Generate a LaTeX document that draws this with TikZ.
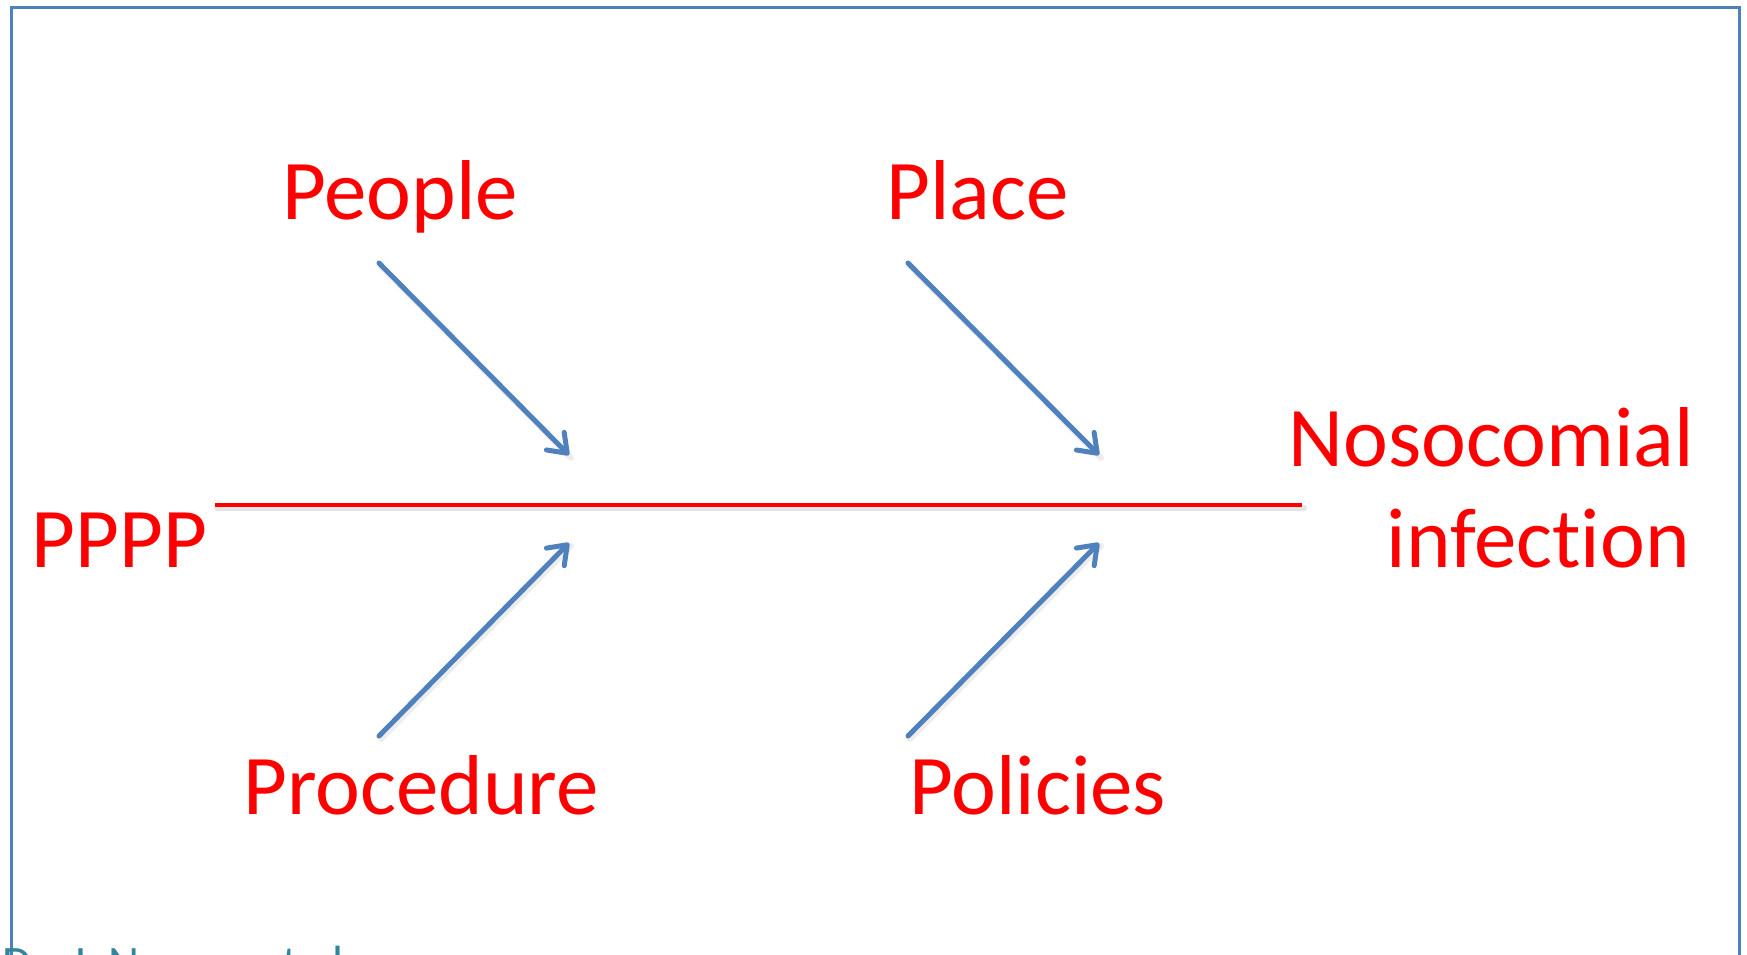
\documentclass[tikz,border=0pt]{standalone}
\usepackage{fontspec}
\setmainfont{Carlito}[Ligatures=NoCommon]
\usetikzlibrary{arrows.meta}
\definecolor{ored}{HTML}{FF0000}
\definecolor{oblue}{HTML}{4F81BD}
\definecolor{oteal}{HTML}{31859C}
\tikzset{
  lbl/.style={text=ored, inner sep=0pt, font=\fontsize{85}{101}\selectfont},
  spine/.style={draw=ored, line width=4.5pt},
  bone/.style={draw=oblue, line width=5pt, line cap=round, -{Straight Barb[length=17pt,width=25pt,line join=round,line cap=round]}},
  shade/.style={draw=black, opacity=0.10, line width=6pt, line cap=round},
  frame/.style={draw=oblue, line width=3pt},
  foot/.style={text=oteal, inner sep=0pt, font=\fontsize{48}{58}\selectfont}
}
\begin{document}
\begin{tikzpicture}[x=1pt,y=-1pt]
\useasboundingbox (0,0) rectangle (1747,954);
\clip (0,0) rectangle (1747,954);
\fill[white] (0,0) rectangle (1747,954);
% frame
\draw[frame] (11,1000) -- (11,7) -- (1739,7) -- (1739,1000);
% coordinates
\coordinate (sL) at (215,505);
\coordinate (sR) at (1302,505);
\coordinate (a1s) at (379,263);
\coordinate (a1e) at (569,455);
\coordinate (a2s) at (908,263);
\coordinate (a2e) at (1099,455);
\coordinate (a3s) at (379,736);
\coordinate (a3e) at (569,543);
\coordinate (a4s) at (908,736);
\coordinate (a4e) at (1099,543);
% shadows
\draw[shade] ([shift={(2,3)}]sL) -- ([shift={(2,3)}]sR);
\foreach \s/\e in {a1s/a1e,a2s/a2e,a3s/a3e,a4s/a4e}
  \draw[shade,opacity=0.07] ([shift={(2,3)}]\s) -- ([shift={(2,3)}]\e);
% spine
\draw[spine] (sL) -- (sR);
% bones
\draw[bone] (a1s) -- (a1e);
\draw[bone] (a2s) -- (a2e);
\draw[bone] (a3s) -- (a3e);
\draw[bone] (a4s) -- (a4e);
% labels
\node[lbl, anchor=base west] (pppp) at (31,567) {PPPP};
\node[lbl, anchor=base west] (people) at (282,219) {People};
\node[lbl, anchor=base west] (place) at (886,219) {Place};
\node[lbl, anchor=base west] (proc) at (243,814) {Procedure};
\node[lbl, anchor=base west] (pol) at (909,814) {Policies};
\node[lbl, anchor=base east] (noso) at (1694,466) {Nosocomial};
\node[lbl, anchor=base east] (infec) at (1690,567) {infection};
% footer
\node[foot, anchor=base west] (footer) at (2,979) {Dr. J. Naeem et al};
\end{tikzpicture}
\end{document}
